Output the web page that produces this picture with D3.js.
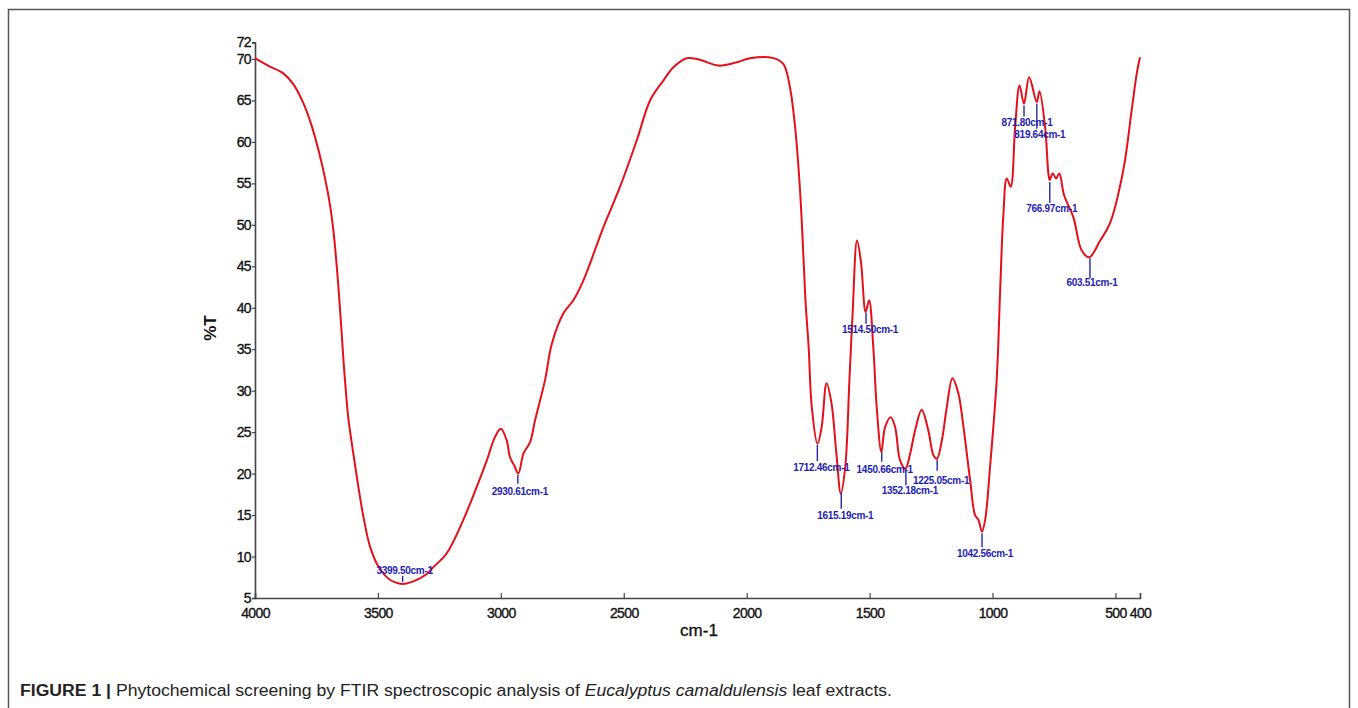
<!DOCTYPE html>
<html>
<head>
<meta charset="utf-8">
<script src="https://cdn.jsdelivr.net/npm/d3@7"></script>
<style>
  html, body { margin: 0; padding: 0; background: #fff; }
  svg { display: block; }
</style>
</head>
<body>
<svg id="chart" width="1358" height="708"></svg>
<script>
// ---- Data ----
const wavenumbers = [
  4000, 3947, 3886, 3845, 3805, 3770, 3740, 3715, 3695, 3680, 3668, 3657, 3648, 3640, 3630,
  3620, 3600, 3580, 3559, 3532, 3498, 3451, 3400, 3356, 3301, 3275, 3220, 3153, 3098, 3057,
  3024, 3000, 2976, 2963, 2946, 2929, 2908, 2881, 2861, 2820, 2793, 2746, 2705, 2664, 2583,
  2515, 2447, 2393, 2339, 2298, 2244, 2190, 2115, 2040, 1986, 1891, 1851, 1824, 1803, 1783,
  1769, 1760, 1748, 1735, 1712, 1695, 1675, 1655, 1635, 1617, 1599, 1582, 1569, 1551, 1535,
  1516, 1502, 1485, 1471, 1452, 1437, 1414, 1396, 1376, 1354, 1335, 1315, 1288, 1261, 1240,
  1226, 1206, 1186, 1163, 1139, 1118, 1091, 1071, 1057, 1043, 1030, 1010, 983, 969, 956,
  942, 926, 908, 890, 872, 851, 820, 809, 786, 772, 767, 755, 741, 728, 709,
  671, 637, 606, 562, 522, 468, 434, 413, 400
];
const transmittance = [
  70.1, 69.2, 68.3, 67.0, 64.8, 62.0, 58.8, 55.6, 52.4, 49.0, 45.2, 41.0, 37.2, 33.6, 29.8,
  26.6, 22.4, 18.5, 14.8, 11.2, 8.8, 7.2, 6.7, 7.0, 7.9, 8.7, 10.4, 14.4, 18.4, 21.6,
  24.4, 25.4, 24.0, 22.0, 21.0, 20.0, 22.4, 23.8, 26.4, 31.3, 35.6, 39.3, 40.9, 43.3, 49.7,
  54.6, 60.2, 65.0, 67.4, 69.0, 70.1, 69.9, 69.2, 69.6, 70.1, 70.1, 69.4, 66.6, 61.8, 54.2,
  46.1, 40.5, 35.3, 28.0, 23.6, 25.6, 30.9, 28.5, 22.4, 17.6, 20.8, 31.3, 39.3, 48.1, 45.5,
  39.5, 40.9, 35.3, 28.0, 22.6, 25.6, 26.8, 25.6, 21.6, 20.6, 22.4, 25.2, 27.7, 25.2, 22.2,
  21.8, 24.0, 28.0, 31.5, 29.7, 25.6, 19.2, 15.0, 14.4, 13.0, 14.4, 20.8, 31.3, 42.0, 51.1,
  55.6, 54.6, 61.8, 66.8, 64.6, 67.8, 64.8, 66.1, 61.8, 56.0, 55.4, 56.2, 55.6, 56.2, 53.6,
  50.9, 46.9, 46.1, 48.1, 50.2, 56.6, 63.8, 68.3, 70.2
];
const peakWavenumbers = [3399.50, 2930.61, 1712.46, 1615.19, 1514.50, 1450.66, 1352.18, 1225.05, 1042.56, 871.80, 819.64, 766.97, 603.51];
const peakLabels = ["3399.50cm-1", "2930.61cm-1", "1712.46cm-1", "1615.19cm-1", "1514.50cm-1", "1450.66cm-1", "1352.18cm-1", "1225.05cm-1", "1042.56cm-1", "871.80cm-1", "819.64cm-1", "766.97cm-1", "603.51cm-1"];
const xTickValues = [4000, 3500, 3000, 2500, 2000, 1500, 1000, 500, 400];
const yTickValues = [5, 10, 15, 20, 25, 30, 35, 40, 45, 50, 55, 60, 65, 70, 72];
const xTitle = "cm-1";
const yTitle = "%T";

// ---- Layout for peak annotations (pixel offsets relative to the curve) ----
const labelLayout = [
  {len: -6, base: -10, dx: 2},
  {len: 9,  base: 22, dx: 2},
  {len: 16, base: 28, dx: 4},
  {len: 16, base: 28, dx: 4},
  {len: 11, base: 22, dx: 4},
  {len: 10, base: 23, dx: 3},
  {len: 16, base: 27, dx: 4},
  {len: 11, base: 26, dx: 4},
  {len: 14, base: 26, dx: 3},
  {len: 11, base: 22, dx: 3},
  {len: 25, base: 36, dx: 3},
  {len: 21, base: 32, dx: 2},
  {len: 20, base: 30, dx: 2}
];

const svg = d3.select("#chart");

// frame
svg.append("rect")
  .attr("x", 8.5).attr("y", 9.5)
  .attr("width", 1341).attr("height", 720)
  .attr("fill", "none").attr("stroke", "#555").attr("stroke-width", 1.5);

const x = d3.scaleLinear().domain([4000, 400]).range([255, 1140]);
const y = d3.scaleLinear().domain([5, 72]).range([598, 42.4]);

const tickFont = sel => sel
  .attr("font-family", "'Liberation Sans', Arial, sans-serif")
  .attr("font-size", 14).attr("fill", "#111")
  .attr("stroke", "#111").attr("stroke-width", 0.35)
  .attr("letter-spacing", -0.6);

// axes
const xAxis = d3.axisBottom(x).tickValues(xTickValues).tickSize(-5).tickPadding(10).tickFormat(d3.format("d"));
const gx = svg.append("g").attr("transform", "translate(0,598)").call(xAxis);
gx.select(".domain").attr("stroke", "#444").attr("stroke-width", 1.6);
gx.selectAll(".tick line").attr("stroke", "#444").attr("stroke-width", 1.2);
gx.selectAll(".tick text").call(tickFont);

const yAxis = d3.axisLeft(y).tickValues(yTickValues).tickSize(3).tickPadding(1).tickFormat(d3.format("d"));
const gy = svg.append("g").attr("transform", "translate(255,0)").call(yAxis);
gy.select(".domain").attr("stroke", "#444").attr("stroke-width", 1.6);
gy.selectAll(".tick line").attr("stroke", "#444").attr("stroke-width", 1.2);
gy.selectAll(".tick text").call(tickFont);

// axis titles
svg.append("text")
  .attr("transform", "translate(216,328) rotate(-90)")
  .attr("text-anchor", "middle")
  .attr("font-family", "'Liberation Sans', Arial, sans-serif")
  .attr("font-size", 17).attr("font-weight", "bold").attr("fill", "#111")
  .text(yTitle);
svg.append("text")
  .attr("x", 699).attr("y", 636)
  .attr("text-anchor", "middle")
  .attr("font-family", "'Liberation Sans', Arial, sans-serif")
  .attr("font-size", 17).attr("fill", "#111")
  .attr("stroke", "#111").attr("stroke-width", 0.3)
  .text(xTitle);

// spectrum
const data = wavenumbers.map((w, i) => ({w, t: transmittance[i]}));
const line = d3.line().x(d => x(d.w)).y(d => y(d.t)).curve(d3.curveCatmullRom.alpha(0.5));
svg.append("path").datum(data)
  .attr("d", line)
  .attr("fill", "none").attr("stroke", "#e3101a").attr("stroke-width", 2)
  .attr("stroke-linejoin", "round");

// interpolation of curve at a wavenumber (linear between read points)
function tAt(w) {
  for (let i = 0; i < data.length - 1; i++) {
    const a = data[i], b = data[i + 1];
    if (w <= a.w && w >= b.w) {
      const f = (a.w - w) / (a.w - b.w);
      return a.t + f * (b.t - a.t);
    }
  }
  return data[data.length - 1].t;
}

// peak annotations
const ann = svg.append("g");
peakWavenumbers.forEach((w, i) => {
  const L = labelLayout[i];
  const px = x(w), cy = y(tAt(w));
  const gap = L.len < 0 ? -2 : 2;
  ann.append("line")
    .attr("x1", px).attr("x2", px)
    .attr("y1", cy + gap).attr("y2", cy + gap + L.len)
    .attr("stroke", "#2626a6").attr("stroke-width", 1.4);
  ann.append("text")
    .attr("x", px + L.dx).attr("y", cy + L.base)
    .attr("text-anchor", "middle")
    .attr("font-family", "'Liberation Sans', Arial, sans-serif")
    .attr("font-size", 10).attr("font-weight", "bold")
    .attr("letter-spacing", -0.3)
    .attr("fill", "#1e1eb4")
    .text(peakLabels[i]);
});

// caption
const cap = svg.append("text")
  .attr("x", 20).attr("y", 696)
  .attr("font-family", "'Liberation Sans', Arial, sans-serif")
  .attr("font-size", 16).attr("fill", "#222")
  .attr("textLength", 872).attr("lengthAdjust", "spacingAndGlyphs");
cap.append("tspan").attr("font-weight", "bold").text("FIGURE 1 | ");
cap.append("tspan").text("Phytochemical screening by FTIR spectroscopic analysis of ");
cap.append("tspan").attr("font-style", "italic").text("Eucalyptus camaldulensis");
cap.append("tspan").text(" leaf extracts.");
</script>
</body>
</html>
